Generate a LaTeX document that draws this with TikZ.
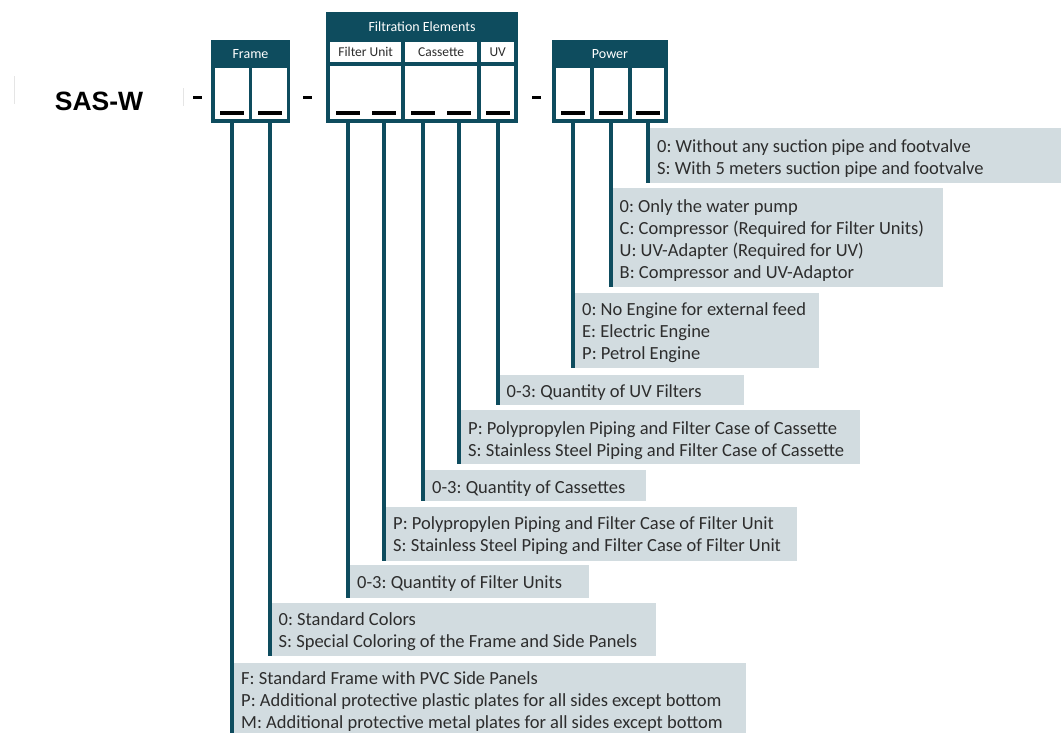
\documentclass[tikz,border=0pt]{standalone}
\usepackage{fontspec}
\setmainfont{Carlito}
\newfontfamily\sasfont{Liberation Sans}
\definecolor{tealc}{RGB}{14,76,94}
\definecolor{grayc}{RGB}{210,220,224}
\definecolor{textc}{RGB}{45,45,45}
\tikzset{
  outerbox/.style={fill=tealc, draw=none, inner sep=0pt, anchor=north west},
  cellbox/.style={fill=white, draw=none, inner sep=0pt, anchor=north west},
  hdr/.style={text=white, font=\fontsize{14}{16}\selectfont, inner sep=0pt},
  subhdr/.style={text=textc, font=\fontsize{13.5}{16}\selectfont, inner sep=0pt},
  uscore/.style={fill=black, draw=none, minimum width=24pt, minimum height=3.5pt, inner sep=0pt},
  dashmk/.style={fill=black, draw=none, minimum width=9pt, minimum height=3pt, inner sep=0pt},
  lblbox/.style={fill=grayc, draw=none, anchor=north west, inner sep=0pt},
  lbltext/.style={anchor=north west, align=left, inner sep=0pt, text=textc,
    font=\fontsize{18.5}{22}\selectfont\frenchspacing},
  conn/.style={draw=tealc, line width=4pt},
  faint/.style={draw=black!10, line width=1pt}
}
\newcommand{\lbltxt}[4]{\node[lbltext] (#1) at ([xshift=11pt,yshift=#3]#2.north west) {#4};}
\begin{document}
\begin{tikzpicture}[x=1pt,y=-1pt]
\useasboundingbox (0,0) rectangle (1061,732);

% title
\node[font=\sasfont\bfseries\fontsize{26.5}{30}\selectfont, inner sep=0pt] (title) at (99,101) {SAS-W};
\draw[faint] (14,76) -- (14,104);
\draw[faint] (183,88) -- (183,106);

% dashes
\node[dashmk] (d1) at (197,97) {};
\node[dashmk] (d2) at (307,97) {};
\node[dashmk] (d3) at (536,97) {};

% Frame box
\node[outerbox, minimum width=79pt, minimum height=83pt] (frame) at (211,40) {};
\node[hdr] (frameh) at (250.5,54) {Frame};
\node[cellbox, minimum width=34pt, minimum height=51pt] (fc1) at (215,68) {};
\node[cellbox, minimum width=35pt, minimum height=51pt] (fc2) at (252,68) {};

% Filtration box
\node[outerbox, minimum width=192pt, minimum height=111pt] (filt) at (326,12) {};
\node[hdr] (filth) at (422,27) {Filtration Elements};
\node[cellbox, minimum width=71pt, minimum height=20pt] (sh1) at (330,42) {};
\node[cellbox, minimum width=72pt, minimum height=20pt] (sh2) at (405,42) {};
\node[cellbox, minimum width=33pt, minimum height=20pt] (sh3) at (481,42) {};
\node[subhdr] at (sh1.center) {Filter Unit};
\node[subhdr] at (sh2.center) {Cassette};
\node[subhdr] at (sh3.center) {UV};
\node[cellbox, minimum width=71pt, minimum height=53pt] (ec1) at (330,66) {};
\node[cellbox, minimum width=72pt, minimum height=53pt] (ec2) at (405,66) {};
\node[cellbox, minimum width=33pt, minimum height=53pt] (ec3) at (481,66) {};

% Power box
\node[outerbox, minimum width=116pt, minimum height=83pt] (power) at (552,40) {};
\node[hdr] (powerh) at (610,54) {Power};
\node[cellbox, minimum width=34pt, minimum height=51pt] (pc1) at (556,68) {};
\node[cellbox, minimum width=34pt, minimum height=51pt] (pc2) at (594,68) {};
\node[cellbox, minimum width=32pt, minimum height=51pt] (pc3) at (632,68) {};

% underscores
\node[uscore] (u1) at (232,113) {};
\node[uscore] (u2) at (269.5,113) {};
\node[uscore] (u3) at (348,113) {};
\node[uscore] (u4) at (384,113) {};
\node[uscore] (u5) at (423,113) {};
\node[uscore] (u6) at (459,113) {};
\node[uscore] (u7) at (497.5,113) {};
\node[uscore] (u8) at (573,113) {};
\node[uscore] (u9) at (610.5,113) {};
\node[uscore] (u10) at (648,113) {};

% label boxes
\node[lblbox, minimum width=415pt, minimum height=55pt] (l10) at (646,128) {};
\node[lblbox, minimum width=334pt, minimum height=99pt] (l9) at (608.5,188) {};
\node[lblbox, minimum width=248pt, minimum height=75pt] (l8) at (571,293) {};
\node[lblbox, minimum width=248pt, minimum height=30pt] (l7) at (495.5,375) {};
\node[lblbox, minimum width=403pt, minimum height=54pt] (l6) at (457,410) {};
\node[lblbox, minimum width=225pt, minimum height=31pt] (l5) at (421,470) {};
\node[lblbox, minimum width=415pt, minimum height=54pt] (l4) at (382,507) {};
\node[lblbox, minimum width=243pt, minimum height=33pt] (l3) at (346,565) {};
\node[lblbox, minimum width=388pt, minimum height=53pt] (l2) at (267.5,603) {};
\node[lblbox, minimum width=516pt, minimum height=72pt] (l1) at (230,663) {};

% label texts
\lbltxt{t10}{l10}{-11pt}{0: Without any suction pipe and footvalve\\S: With 5 meters suction pipe and footvalve}
\lbltxt{t9}{l9}{-11.5pt}{0: Only the water pump\\C: Compressor (Required for Filter Units)\\U: UV-Adapter (Required for UV)\\B: Compressor and UV-Adaptor}
\lbltxt{t8}{l8}{-9pt}{0: No Engine for external feed\\E: Electric Engine\\P: Petrol Engine}
\lbltxt{t7}{l7}{-9.5pt}{0-3: Quantity of UV Filters}
\lbltxt{t6}{l6}{-11pt}{P: Polypropylen Piping and Filter Case of Cassette\\S: Stainless Steel Piping and Filter Case of Cassette}
\lbltxt{t5}{l5}{-10.5pt}{0-3: Quantity of Cassettes}
\lbltxt{t4}{l4}{-9.5pt}{P: Polypropylen Piping and Filter Case of Filter Unit\\S: Stainless Steel Piping and Filter Case of Filter Unit}
\lbltxt{t3}{l3}{-10.5pt}{0-3: Quantity of Filter Units}
\lbltxt{t2}{l2}{-9.5pt}{0: Standard Colors\\S: Special Coloring of the Frame and Side Panels}
\lbltxt{t1}{l1}{-8.5pt}{F: Standard Frame with PVC Side Panels\\P: Additional protective plastic plates for all sides except bottom\\M: Additional protective metal plates for all sides except bottom}

% connectors
\draw[conn] (u1 |- frame.south) -- (u1 |- l1.south);
\draw[conn] (u2 |- frame.south) -- (u2 |- l2.south);
\draw[conn] (u3 |- filt.south) -- (u3 |- l3.south);
\draw[conn] (u4 |- filt.south) -- (u4 |- l4.south);
\draw[conn] (u5 |- filt.south) -- (u5 |- l5.south);
\draw[conn] (u6 |- filt.south) -- (u6 |- l6.south);
\draw[conn] (u7 |- filt.south) -- (u7 |- l7.south);
\draw[conn] (u8 |- power.south) -- (u8 |- l8.south);
\draw[conn] (u9 |- power.south) -- (u9 |- l9.south);
\draw[conn] (u10 |- power.south) -- (u10 |- l10.south);
\end{tikzpicture}
\end{document}
